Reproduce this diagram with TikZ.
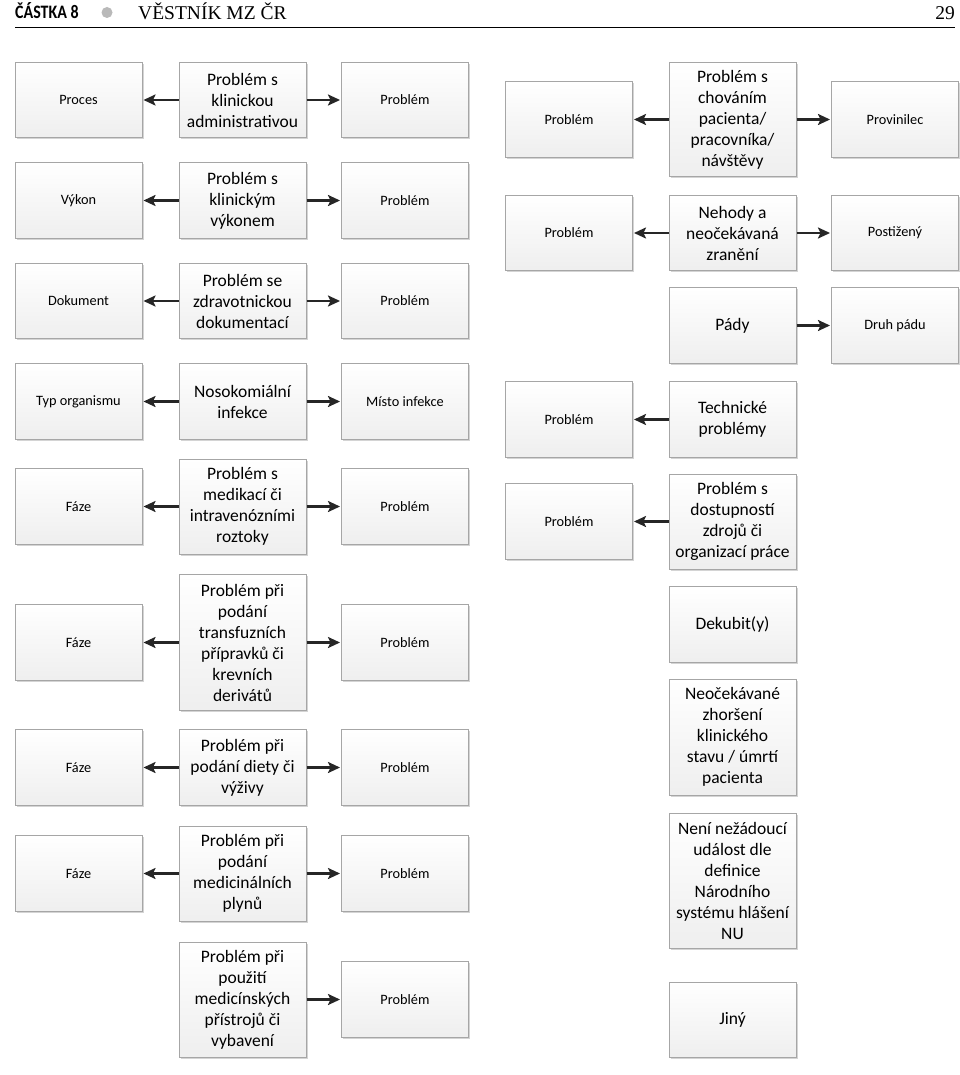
\documentclass[tikz,border=0pt]{standalone}
\usepackage{fontspec}
\setmainfont{Carlito}
\newfontfamily\hdrfont[FakeStretch=0.84]{Carlito}
\newfontfamily\serfont{Liberation Serif}
\usetikzlibrary{arrows.meta,shadows}
\tikzset{
  bx/.style={draw=gray!70, line width=1pt, top color=white, bottom color=gray!13,
    minimum width=127pt, inner sep=2pt, align=center,
    drop shadow={shadow xshift=1.5pt, shadow yshift=-1.5pt, opacity=0.3, fill=black!55}},
  sm/.style={bx, minimum height=75.5pt, font=\fontsize{14.3}{17}\selectfont},
  bg/.style={bx, minimum height=75.5pt, font=\fontsize{17.5}{21}\selectfont},
  arr/.style={line width=2.2pt, draw=black!85, -{Stealth[length=12pt,width=11pt,inset=2.5pt]}, shorten >=1pt}
}
\begin{document}
\begin{tikzpicture}[x=1pt,y=-1pt]
\useasboundingbox[fill=white] (0,0) rectangle (960,1075);
% header
\node[anchor=base west, inner sep=0pt, font=\hdrfont\bfseries\fontsize{19}{22}\selectfont] (h1) at (15,19) {ČÁSTKA 8};
\fill[gray!55] (107,12.5) circle (5.5pt);
\node[anchor=base west, inner sep=0pt, font=\serfont\fontsize{19.5}{22}\selectfont] (h2) at (138,19.5) {VĚSTNÍK MZ ČR};
\node[anchor=base east, inner sep=0pt, font=\serfont\fontsize{19.5}{22}\selectfont] (h3) at (955,19.5) {29};
\draw[line width=1.4pt] (15,27.5) -- (955,27.5);

% left block
\node[sm] (l1a) at (78.5,100) {Proces};
\node[bg] (l1b) at (242.5,100) {Problém s\\klinickou\\administrativou};
\node[sm] (l1c) at (405,100) {Problém};

\node[sm] (l2a) at (78.5,200.5) {Výkon};
\node[bg] (l2b) at (242.5,200.5) {Problém s\\klinickým\\výkonem};
\node[sm] (l2c) at (405,200.5) {Problém};

\node[sm] (l3a) at (78.5,301) {Dokument};
\node[bg] (l3b) at (242.5,301) {Problém se\\zdravotnickou\\dokumentací};
\node[sm] (l3c) at (405,301) {Problém};

\node[sm] (l4a) at (78.5,401.5) {Typ organismu};
\node[bg] (l4b) at (242.5,401.5) {Nosokomiální\\infekce};
\node[sm] (l4c) at (405,401.5) {Místo infekce};

\node[sm] (l5a) at (78.5,506.5) {Fáze};
\node[bg, minimum height=95pt] (l5b) at (242.5,506.5) {Problém s\\medikací či\\intravenózními\\roztoky};
\node[sm] (l5c) at (405,506.5) {Problém};

\node[sm] (l6a) at (78.5,642.5) {Fáze};
\node[bg, minimum height=136pt] (l6b) at (242.5,642.5) {Problém při\\podání\\transfuzních\\přípravků či\\krevních\\derivátů};
\node[sm] (l6c) at (405,642.5) {Problém};

\node[sm] (l7a) at (78.5,767.5) {Fáze};
\node[bg] (l7b) at (242.5,767.5) {Problém při\\podání diety či\\výživy};
\node[sm] (l7c) at (405,767.5) {Problém};

\node[sm] (l8a) at (78.5,873.5) {Fáze};
\node[bg, minimum height=95pt] (l8b) at (242.5,873.5) {Problém při\\podání\\medicinálních\\plynů};
\node[sm] (l8c) at (405,873.5) {Problém};

\node[bg, minimum height=115pt] (l9b) at (242.5,999.5) {Problém při\\použití\\medicínských\\přístrojů či\\vybavení};
\node[sm] (l9c) at (405,999.5) {Problém};

\foreach \r in {1,...,8}{
  \draw[arr] (l\r b) -- (l\r a);
  \draw[arr] (l\r b) -- (l\r c);
}
\draw[arr] (l9b) -- (l9c);

% right block
\node[sm] (r1d) at (569,119.5) {Problém};
\node[bg, minimum height=114pt] (r1e) at (732.5,119.5) {Problém s\\chováním\\pacienta/\\pracovníka/\\návštěvy};
\node[sm] (r1f) at (895,119.5) {Provinilec};

\node[sm] (r2d) at (569,233) {Problém};
\node[bg] (r2e) at (732.5,233) {Nehody a\\neočekávaná\\zranění};
\node[sm] (r2f) at (895,233) {Postižený};

\node[bg] (r3e) at (732.5,325.5) {Pády};
\node[sm] (r3f) at (895,325.5) {Druh pádu};

\node[sm] (r4d) at (569,419.5) {Problém};
\node[bg] (r4e) at (732.5,419.5) {Technické\\problémy};

\node[sm] (r5d) at (569,521.5) {Problém};
\node[bg, minimum height=95pt] (r5e) at (732.5,521.5) {Problém s\\dostupností\\zdrojů či\\organizací práce};

\node[bg] (r6e) at (732.5,624.5) {Dekubit(y)};
\node[bg, minimum height=116pt] (r7e) at (732.5,737) {Neočekávané\\zhoršení\\klinického\\stavu / úmrtí\\pacienta};
\node[bg, minimum height=135pt] (r8e) at (732.5,880.5) {Není nežádoucí\\událost dle\\definice\\Národního\\systému hlášení\\NU};
\node[bg] (r9e) at (732.5,1020) {Jiný};

\draw[arr] (r1e) -- (r1d);
\draw[arr] (r1e) -- (r1f);
\draw[arr] (r2e) -- (r2d);
\draw[arr] (r2e) -- (r2f);
\draw[arr] (r3e) -- (r3f);
\draw[arr] (r4e) -- (r4d);
\draw[arr] (r5e) -- (r5d);
\end{tikzpicture}
\end{document}
